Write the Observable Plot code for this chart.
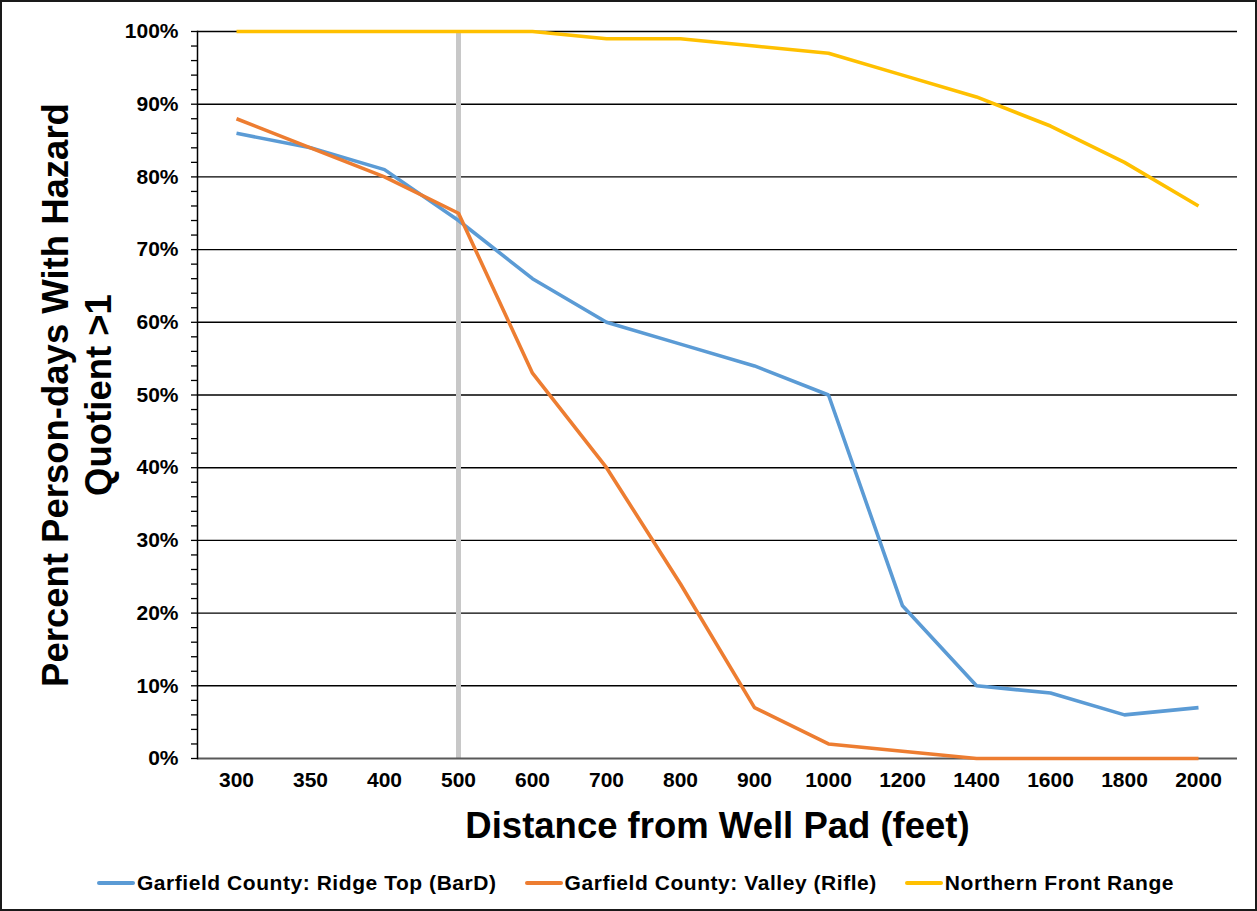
<!DOCTYPE html>
<html>
<head>
<meta charset="utf-8">
<script src="https://cdn.jsdelivr.net/npm/d3@7"></script>
<script src="https://cdn.jsdelivr.net/npm/@observablehq/plot@0.6"></script>
<style>
  html, body { margin: 0; padding: 0; background: #fff; }
  #wrap { position: relative; width: 1257px; height: 911px; background: #fff; overflow: hidden; font-family: "Liberation Sans", Arial, sans-serif; }
  #border { position: absolute; left: 0; top: 0; width: 1257px; height: 911px; box-sizing: border-box; border: 2px solid #1a1a1a; pointer-events: none; }
  #legend { position: absolute; left: 0; top: 858px; width: 1257px; height: 50px; display: flex; justify-content: center; align-items: center; padding-left: 14px; box-sizing: border-box; font-weight: bold; font-size: 21px; letter-spacing: 0.55px; color: #000; }
  .item { display: flex; align-items: center; margin: 0 14px; }
  .sw { display: inline-block; width: 38px; height: 4px; border-radius: 2px; margin-right: 2px; }
</style>
</head>
<body>
<div id="wrap"><div id="chart"></div><div id="legend"></div><div id="border"></div></div>
<script>
// ---- data ----
const categories = ["300","350","400","500","600","700","800","900","1000","1200","1400","1600","1800","2000"];
const ridgeTop   = [86, 84, 81, 74, 66, 60, 57, 54, 50, 21, 10, 9, 6, 7];
const valley     = [88, 84, 80, 75, 53, 40, 24, 7, 2, 1, 0, 0, 0, 0];
const frontRange = [100, 100, 100, 100, 100, 99, 99, 98, 97, 94, 91, 87, 82, 76];
const seriesNames = ["Garfield County: Ridge Top (BarD)", "Garfield County: Valley (Rifle)", "Northern Front Range"];
const seriesColors = ["#5B9BD5", "#ED7D31", "#FFC000"];
const yTickValues = [0, 10, 20, 30, 40, 50, 60, 70, 80, 90, 100];
const yMinorTicks = [0,2,4,6,8,10,12,14,16,18,20,22,24,26,28,30,32,34,36,38,40,42,44,46,48,50,52,54,56,58,60,62,64,66,68,70,72,74,76,78,80,82,84,86,88,90,92,94,96,98,100];
const gridValues = [10, 20, 30, 40, 50, 60, 70, 80, 90, 100];
const markerCategory = ["500"];
const xTitle = "Distance from Well Pad (feet)";
const yTitle = "Percent Person-days With Hazard\nQuotient >1";

const seriesValues = [ridgeTop, valley, frontRange];
const rows = [];
seriesNames.forEach((name, si) => {
  categories.forEach((c, i) => rows.push({series: name, distance: c, value: seriesValues[si][i]}));
});

const plot = Plot.plot({
  width: 1257,
  height: 858,
  marginLeft: 197,
  marginRight: 20,
  marginTop: 31,
  marginBottom: 100,
  style: { fontFamily: "'Liberation Sans', Arial, sans-serif", fontWeight: "bold", color: "#000", background: "transparent", overflow: "visible" },
  x: { type: "point", domain: categories, padding: 0.5, label: null },
  y: { domain: [0, 100], label: null },
  color: { domain: seriesNames, range: seriesColors },
  marks: [
    Plot.ruleY(gridValues, { stroke: "#000", strokeWidth: 1.4 }),
    Plot.ruleX(markerCategory, { stroke: "#c8c8c8", strokeWidth: 5 }),
    Plot.ruleY([0], { stroke: "#595959", strokeWidth: 2 }),
    Plot.frame({ anchor: "left", stroke: "#000", strokeWidth: 1.5 }),
    Plot.axisY({ ticks: yMinorTicks, tickSize: 6, tickFormat: () => "", label: null, stroke: "#000", strokeWidth: 1.3, strokeOpacity: 1 }),
    Plot.axisY({ ticks: yTickValues, tickSize: 0, tickPadding: 19, tickFormat: d => d + "%", label: null, fontSize: 21, fontWeight: "bold", fill: "#000" }),
    Plot.axisX({ tickSize: 0, tickPadding: 14, label: null, fontSize: 21, fontWeight: "bold", fill: "#000" }),
    Plot.line(rows, { x: "distance", y: "value", z: "series", stroke: "series", strokeWidth: 3.6, strokeLinejoin: "miter", strokeLinecap: "butt" }),
    Plot.text([xTitle], { text: d => d, frameAnchor: "bottom", dy: 68, fontSize: 36.5, fontWeight: "bold", textAnchor: "middle", lineAnchor: "middle", fill: "#000" }),
    Plot.text([yTitle], { text: d => d, frameAnchor: "left", rotate: -90, dx: -122, fontSize: 36.5, fontWeight: "bold", lineHeight: 1.2, textAnchor: "middle", lineAnchor: "middle", fill: "#000" })
  ]
});
document.getElementById("chart").appendChild(plot);

const legend = document.getElementById("legend");
seriesNames.forEach((name, i) => {
  const item = document.createElement("div");
  item.className = "item";
  const sw = document.createElement("span");
  sw.className = "sw";
  sw.style.background = seriesColors[i];
  const label = document.createElement("span");
  label.textContent = name;
  item.appendChild(sw);
  item.appendChild(label);
  legend.appendChild(item);
});
</script>
</body>
</html>
